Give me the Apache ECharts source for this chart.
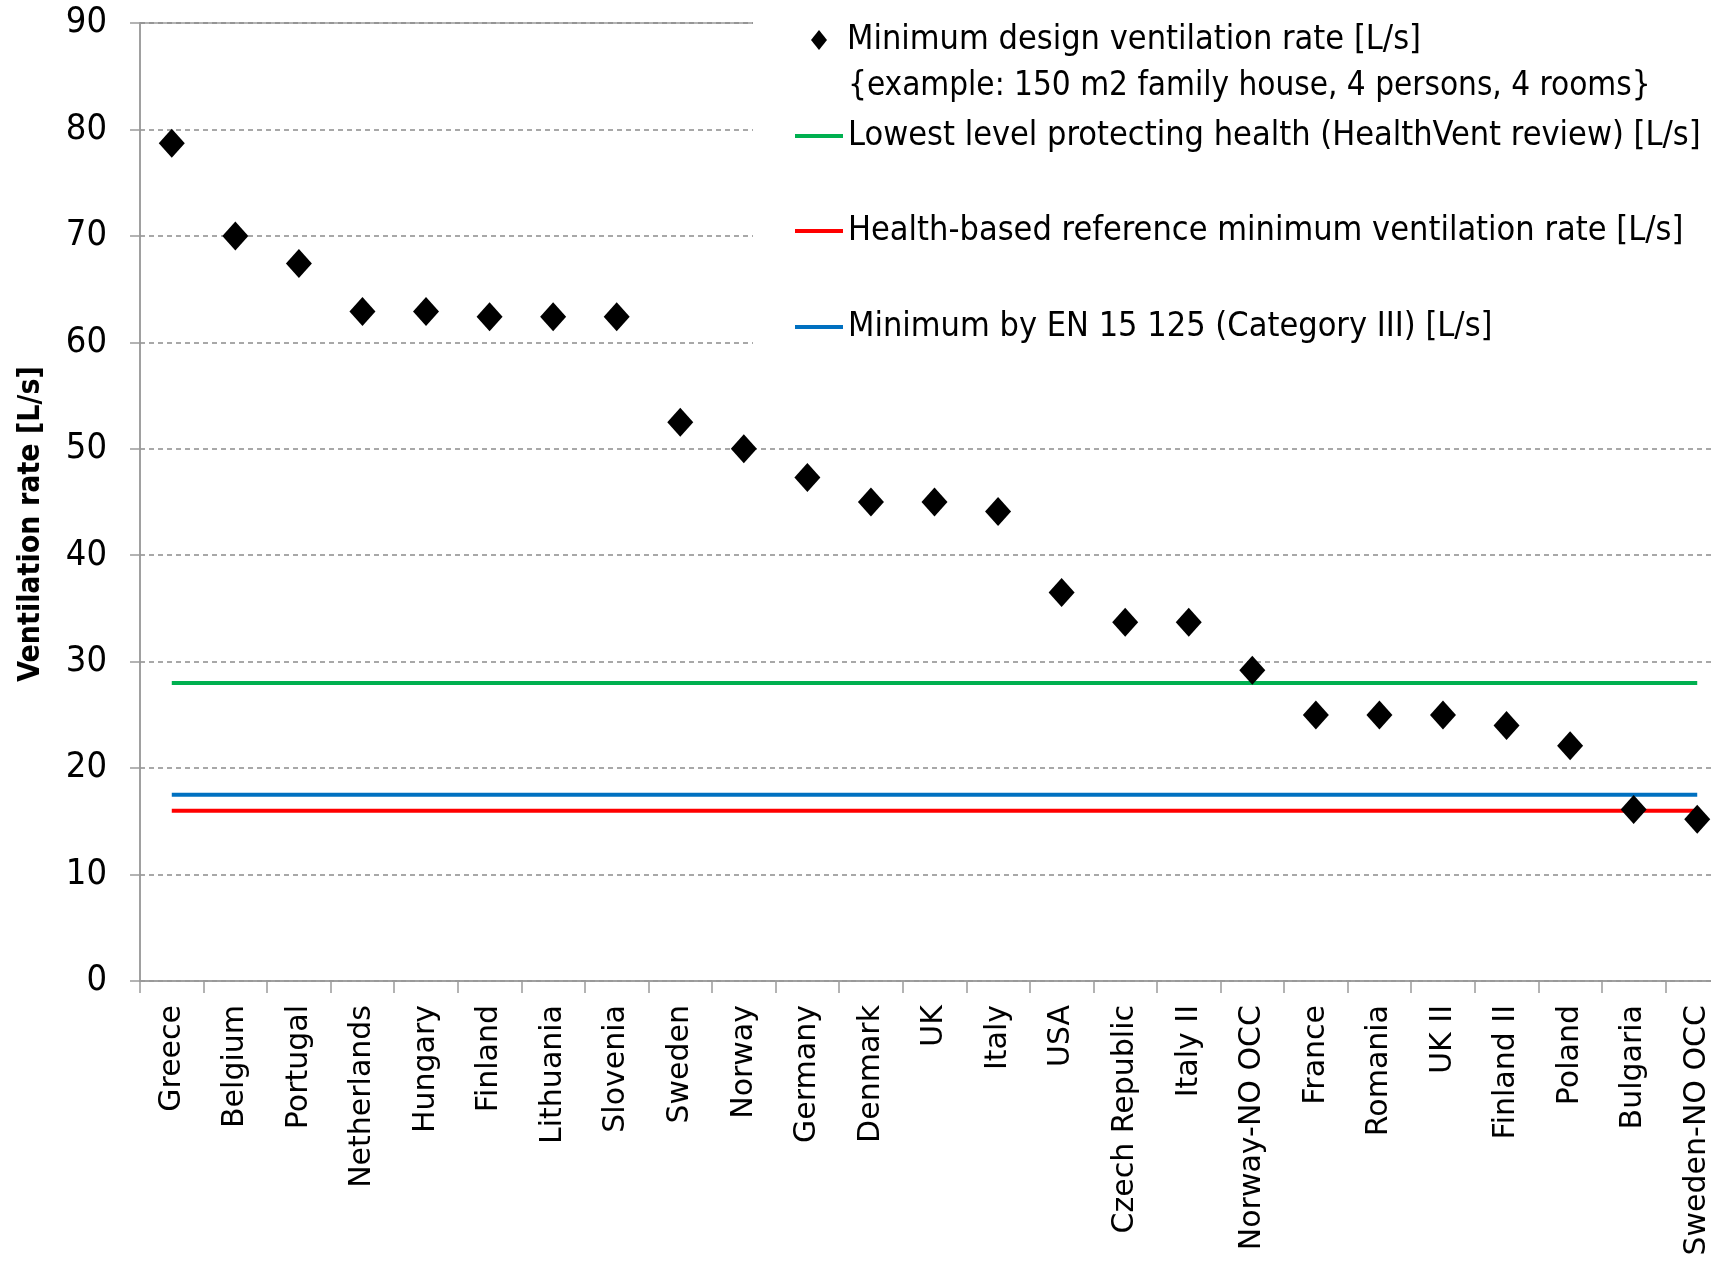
<!DOCTYPE html>
<html>
<head>
<meta charset="utf-8">
<script src="https://cdn.jsdelivr.net/npm/echarts@6/dist/echarts.min.js"></script>
<style>
  html, body { margin: 0; padding: 0; background: #fff; }
  #chart { width: 1711px; height: 1263px; }
</style>
</head>
<body>
<div id="chart"></div>
<script>
const categories = [
  'Greece', 'Belgium', 'Portugal', 'Netherlands', 'Hungary', 'Finland', 'Lithuania',
  'Slovenia', 'Sweden', 'Norway', 'Germany', 'Denmark', 'UK', 'Italy', 'USA',
  'Czech Republic', 'Italy II', 'Norway-NO OCC', 'France', 'Romania', 'UK II',
  'Finland II', 'Poland', 'Bulgaria', 'Sweden-NO OCC'
]

const designRates = [
  78.7, 70, 67.4, 62.9, 62.9, 62.4, 62.4, 62.4, 52.5, 50, 47.3, 45, 45, 44.1,
  36.5, 33.7, 33.7, 29.2, 25, 25, 25, 24, 22.1, 16.1, 15.2
]

const yTicks = [0, 10, 20, 30, 40, 50, 60, 70, 80, 90]

const healthVentLevel = 28
const healthReferenceLevel = 16
const en15125Level = 17.5

const names = {
  design: 'Minimum design ventilation rate [L/s]',
  designNote: '{example: 150 m2 family house, 4 persons, 4 rooms}',
  healthVent: 'Lowest level protecting health (HealthVent review) [L/s]',
  reference: 'Health-based reference minimum ventilation rate [L/s]',
  en: 'Minimum by EN 15 125 (Category III) [L/s]'
}

const narrow = "'DejaVu Sans Condensed', 'Liberation Sans', sans-serif"
const first = categories[0]
const last = categories[categories.length - 1]

const levelLine = (name, value, color) => ({
  name: name,
  type: 'line',
  data: [[first, value], [last, value]],
  symbol: 'none',
  lineStyle: { color: color, width: 4 },
  itemStyle: { color: color },
  z: 2
})

const legendAt = (name, left, top, opts) => Object.assign({
  data: [name],
  left: left,
  top: top,
  padding: 0,
  orient: 'vertical',
  icon: 'rect',
  itemWidth: 48,
  itemHeight: 4,
  selectedMode: false,
  textStyle: { fontFamily: narrow, fontSize: 34, lineHeight: 40, color: '#000' }
}, opts || {})

const chart = echarts.init(document.getElementById('chart'), null, { renderer: 'canvas' })

chart.setOption({
  backgroundColor: '#fff',
  animation: false,
  grid: {
    left: 140, top: 23, width: 1589, height: 958,
    outerBoundsMode: 'none',
    show: true, borderColor: '#9a9a9a', borderWidth: 1.5
  },
  xAxis: {
    type: 'category',
    data: categories,
    boundaryGap: true,
    axisLine: { lineStyle: { color: '#9a9a9a', width: 1.5 } },
    axisTick: { show: true, interval: 0, length: 12, lineStyle: { color: '#9a9a9a', width: 1.5 } },
    axisLabel: {
      interval: 0, rotate: 90, margin: 24,
      fontFamily: 'DejaVu Sans', fontSize: 30, color: '#000'
    }
  },
  yAxis: {
    type: 'value',
    min: yTicks[0],
    max: yTicks[yTicks.length - 1],
    interval: 10,
    name: 'Ventilation rate [L/s]',
    nameLocation: 'middle',
    nameGap: 94,
    nameTextStyle: {
      fontFamily: narrow, fontWeight: 'bold', fontSize: 30, color: '#000',
      padding: [0, 44, 0, 0]
    },
    axisLine: { show: true, lineStyle: { color: '#9a9a9a', width: 1.5 } },
    axisTick: { show: true, length: 10, lineStyle: { color: '#9a9a9a', width: 1.5 } },
    axisLabel: { margin: 33, fontFamily: narrow, fontSize: 36, color: '#000' },
    splitLine: { lineStyle: { color: '#8c8c8c', width: 1.5, type: [5, 4] } }
  },
  legend: [
    legendAt(names.design, 811, 20, {
      icon: 'diamond', itemWidth: 16, itemHeight: 20,
      textStyle: { fontFamily: narrow, fontSize: 34, lineHeight: 40, color: '#000', padding: [0, 0, 0, 15] }
    }),
    legendAt(names.healthVent, 795, 116),
    legendAt(names.reference, 795, 211),
    legendAt(names.en, 795, 307)
  ],
  graphic: [
    {
      type: 'rect', z: 1, silent: true,
      shape: { x: 753, y: 0, width: 960, height: 380 },
      style: { fill: '#fff' }
    },
    {
      type: 'text', z: 5, left: 848, top: 70,
      style: { text: names.designNote, font: '33px ' + narrow, fill: '#000' }
    }
  ],
  series: [
    levelLine(names.healthVent, healthVentLevel, '#00b050'),
    levelLine(names.reference, healthReferenceLevel, '#ff0000'),
    levelLine(names.en, en15125Level, '#0070c0'),
    {
      name: names.design,
      type: 'scatter',
      data: designRates,
      symbol: 'diamond',
      symbolSize: [26, 29],
      itemStyle: { color: '#000', opacity: 1 },
      z: 3
    }
  ]
})
</script>
</body>
</html>
